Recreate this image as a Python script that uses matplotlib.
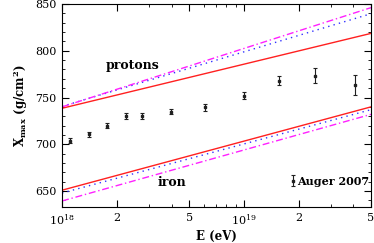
import numpy as np
import matplotlib.pyplot as plt

# Auger 2007 Xmax data
E_auger = [1.11e18, 1.41e18, 1.77e18, 2.24e18, 2.75e18, 3.95e18, 6.1e18,
           1.0e19, 1.55e19, 2.45e19, 4.1e19]
X_auger = [704, 710.5, 720, 730, 730.5, 735, 739.5, 752, 768, 773, 763.5]
X_err = [2.5, 2.5, 2.5, 3, 3, 3, 3.5, 4, 5, 8, 11]

# model lines (endpoints at 1e18 and 5e19 eV)
E_line = [1e18, 5e19]
p_solid = [738.5, 818.5]
p_dot = [740.5, 839.5]
p_dashdot = [740.0, 846.0]
fe_solid = [651.0, 740.0]
fe_dot = [648.0, 737.0]
fe_dashdot = [639.5, 732.0]

xticks = [1e18, 2e18, 5e18, 1e19, 2e19, 5e19]
xticklabels = ['10$^{18}$', '2', '5', '10$^{19}$', '2', '5']
yticks = [650, 700, 750, 800, 850]

plt.rcParams['font.family'] = 'DejaVu Serif'
plt.rcParams['mathtext.fontset'] = 'dejavuserif'

fig = plt.figure(figsize=(3.74, 2.43), dpi=100)
ax = fig.add_axes([0.166, 0.148, 0.826, 0.836])

ax.plot(E_line, p_solid, color='#ff2020', lw=1.0)
ax.plot(E_line, p_dot, color='#3030ff', lw=1.0, ls=(0, (1, 3)))
ax.plot(E_line, p_dashdot, color='#ff20ff', lw=1.0, ls=(0, (5, 2, 1, 2)))
ax.plot(E_line, fe_solid, color='#ff2020', lw=1.0)
ax.plot(E_line, fe_dot, color='#3030ff', lw=1.0, ls=(0, (1, 3)))
ax.plot(E_line, fe_dashdot, color='#ff20ff', lw=1.0, ls=(0, (5, 2, 1, 2)))

ax.errorbar(E_auger, X_auger, yerr=X_err, fmt='s', color='#202020',
            ms=2.0, elinewidth=0.8, capsize=1.5, capthick=0.8,
            label='Auger 2007')

ax.text(2.45e18, 784, 'protons', fontsize=9, fontweight='bold',
        ha='center', va='center')
ax.text(4.0e18, 659.5, 'iron', fontsize=9, fontweight='bold',
        ha='center', va='center')

ax.set_xscale('log')
ax.set_xlim(1e18, 5e19)
ax.set_ylim(633, 850)
ax.set_xticks(xticks)
ax.set_xticklabels(xticklabels)
ax.set_yticks(yticks)
ax.set_yticks(np.arange(640, 851, 10), minor=True)
ax.tick_params(which='both', direction='in', top=True, right=True,
               labelsize=8, pad=4)
ax.tick_params(which='major', length=5)
ax.tick_params(which='minor', length=2.5)
for s in ax.spines.values():
    s.set_linewidth(0.8)

ax.set_xlabel('E (eV)', fontsize=8.5, fontweight='bold', labelpad=2)
ax.set_ylabel(r'X$_{\mathbf{max}}$ (g/cm$^{\mathbf{2}}$)', fontsize=8.5,
              fontweight='bold', labelpad=4)

ax.legend(loc='center right', bbox_to_anchor=(0.995, 0.128), frameon=False,
          handletextpad=0.05, handlelength=0.6, borderaxespad=0.0,
          borderpad=0.0, prop={'weight': 'bold', 'size': 8})

fig.savefig('out.png', dpi=100)
